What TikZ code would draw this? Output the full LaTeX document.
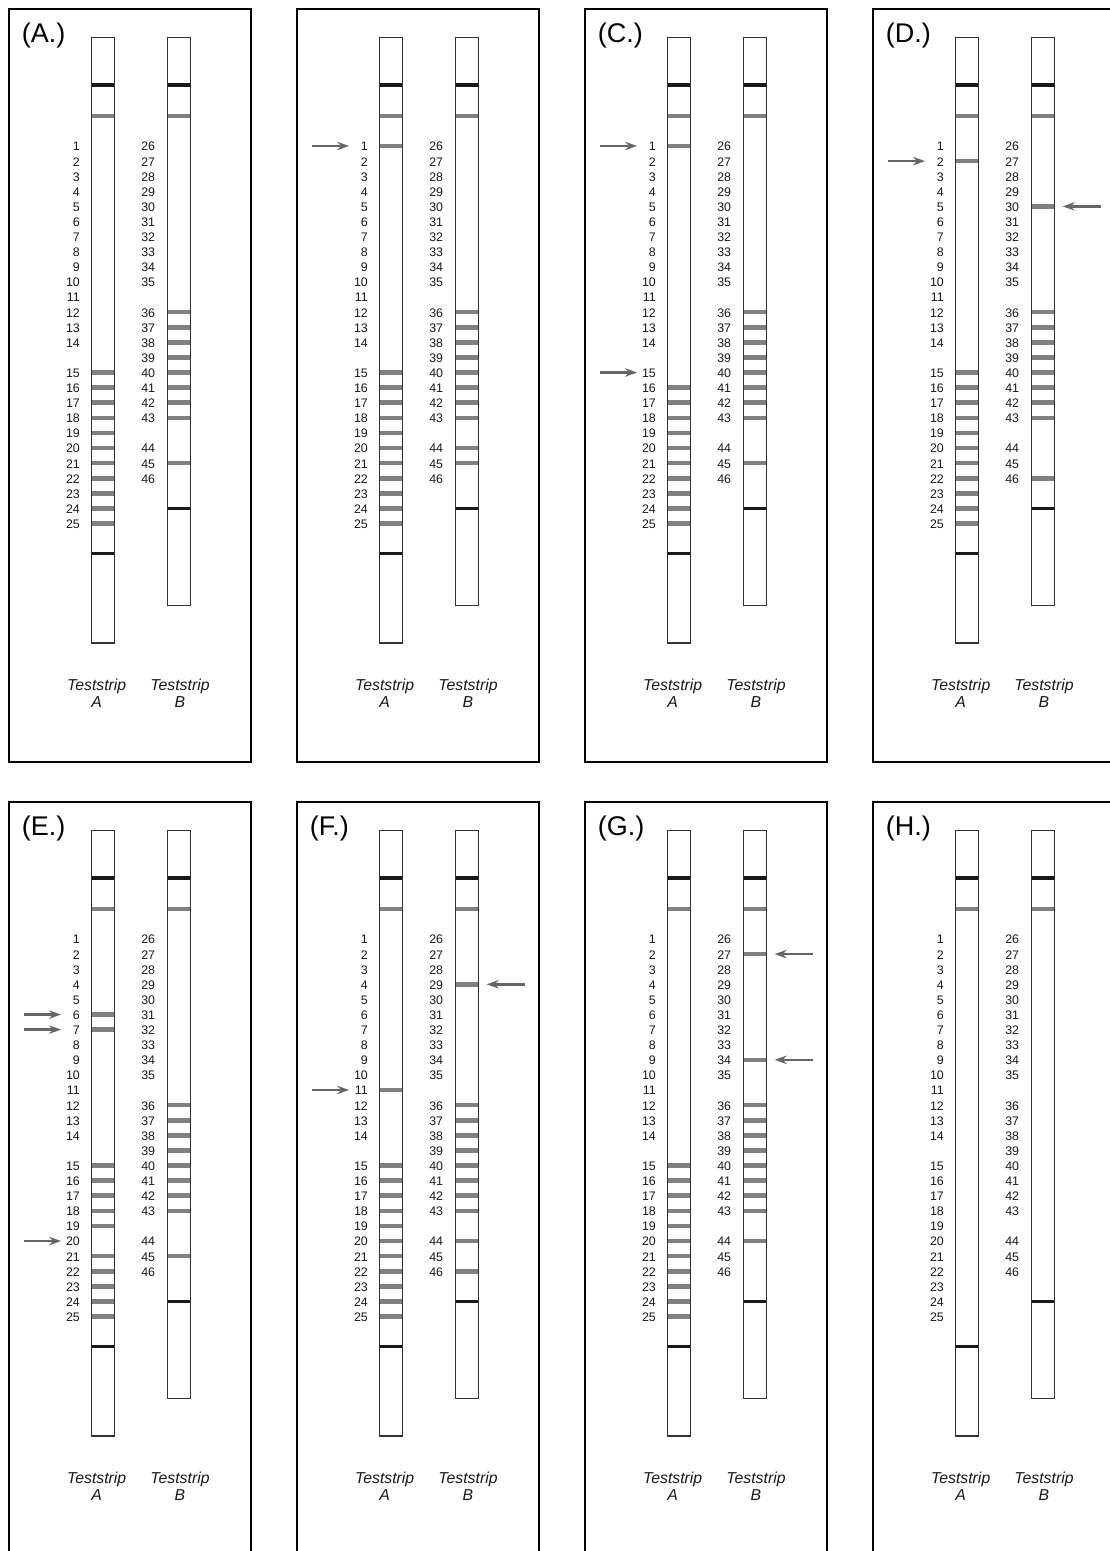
\documentclass[tikz,border=0pt]{standalone}
\usepackage{fontspec}
\setmainfont{Liberation Sans}
\usetikzlibrary{arrows.meta}
\tikzset{
  panelbox/.style={draw=black, line width=2.2pt},
  stripbox/.style={draw=black!80, line width=1.4pt, fill=white, outer sep=0pt, inner sep=0pt},
  bandline/.style={draw=black!50, line width=4.6pt},
  ctrlline/.style={draw=black!90, line width=3.2pt},
  numlabel/.style={font=\fontsize{12.4}{14}\selectfont, inner sep=0pt, anchor=east, text=black!90},
  stripname/.style={font=\fontsize{15.8}{18}\selectfont\itshape, inner sep=0pt, anchor=base, text=black!90},
  panellabel/.style={font=\fontsize{27}{30}\selectfont, inner sep=0pt, anchor=base west},
  markarrow/.style={draw=black!60, line width=2.4pt, -{Stealth[length=12pt,width=8.5pt,inset=4pt]}},
}
% #1 id, #2 xoff, #3 yoff, #4 label, #5 bands A, #6 bands B, #7 left arrows, #8 right arrows
\newcommand\drawpanel[8]{%
\begin{scope}[shift={(#2,#3)}]
  \draw[panelbox] (0,0) rectangle (242,753);
  \if\relax\detokenize{#4}\relax\else
    \node[panellabel] (#1-lab) at (12.6,33.5) {#4};
  \fi
  \node[stripbox, minimum width=23pt, minimum height=605.3pt, anchor=north west] (#1-sa) at (82.7,28.7) {};
  \node[stripbox, minimum width=23pt, minimum height=567.6pt, anchor=north west] (#1-sb) at (158.3,28.7) {};
  \draw[ctrlline] (83.4,76) -- (105,76);
  \draw[ctrlline] (159,76) -- (180.6,76);
  \draw[bandline] (83.4,107) -- (105,107);
  \draw[bandline] (159,107) -- (180.6,107);
  \draw[ctrlline] (83.4,544.3) -- (105,544.3);
  \draw[ctrlline] (159,499.3) -- (180.6,499.3);
  \foreach \n in {1,...,25}{
    \pgfmathtruncatemacro\k{(\n<15) ? (\n-1) : (\n)}
    \node[numlabel] (#1-n\n) at (71,{137.7+\k*15.1}) {\n};
  }
  \foreach \n in {26,...,46}{
    \pgfmathtruncatemacro\k{(\n<36) ? (\n-26) : ((\n<44) ? (\n-25) : (\n-24))}
    \node[numlabel] (#1-n\n) at (146.3,{137.7+\k*15.1}) {\n};
  }
  \foreach \n in {#5}{
    \ifnum\n>0
      \pgfmathsetmacro\yy{137+((\n<15) ? (\n-1) : (\n))*15.1}
      \draw[bandline] (83.4,\yy) -- (105,\yy);
    \fi
  }
  \foreach \n in {#6}{
    \ifnum\n>0
      \pgfmathsetmacro\yy{137+((\n<36) ? (\n-26) : ((\n<44) ? (\n-25) : (\n-24)))*15.1}
      \draw[bandline] (159,\yy) -- (180.6,\yy);
    \fi
  }
  \foreach \n in {#7}{
    \ifnum\n>0
      \pgfmathsetmacro\yy{137+((\n<15) ? (\n-1) : (\n))*15.1}
      \coordinate (#1-lt\n) at (14.7,\yy);
      \coordinate (#1-lh\n) at (52,\yy);
      \draw[markarrow] (#1-lt\n) -- (#1-lh\n);
    \fi
  }
  \foreach \n in {#8}{
    \ifnum\n>0
      \pgfmathsetmacro\yy{137+((\n<36) ? (\n-26) : ((\n<44) ? (\n-25) : (\n-24)))*15.1}
      \coordinate (#1-rt\n) at (227.7,\yy);
      \coordinate (#1-rh\n) at (189.7,\yy);
      \draw[markarrow] (#1-rt\n) -- (#1-rh\n);
    \fi
  }
  \node[stripname] (#1-ta) at (87.7,681) {Teststrip};
  \node[stripname] (#1-tax) at (87.7,698.7) {A};
  \node[stripname] (#1-tb) at (171,681) {Teststrip};
  \node[stripname] (#1-tbx) at (171,698.7) {B};
\end{scope}}
\begin{document}
\begin{tikzpicture}[x=1pt,y=-1pt]
  \useasboundingbox (0,0) rectangle (1110,1551);
  \fill[white] (0,0) rectangle (1110,1551);
  \clip (0,0) rectangle (1110,1551);
  \drawpanel{pa}{9}{9}{(A.)}{15,16,17,18,19,20,21,22,23,24,25}{36,37,38,39,40,41,42,43,45}{0}{0}
  \drawpanel{pb}{297}{9}{}{1,15,16,17,18,19,20,21,22,23,24,25}{36,37,38,39,40,41,42,43,44,45}{1}{0}
  \drawpanel{pc}{585}{9}{(C.)}{1,16,17,18,19,20,21,22,23,24,25}{36,37,38,39,40,41,42,43,45}{1,15}{0}
  \drawpanel{pd}{873}{9}{(D.)}{2,15,16,17,18,19,20,21,22,23,24,25}{30,36,37,38,39,40,41,42,43,46}{2}{30}
  \drawpanel{pe}{9}{802}{(E.)}{6,7,15,16,17,18,19,21,22,23,24,25}{36,37,38,39,40,41,42,43,45}{6,7,20}{0}
  \drawpanel{pf}{297}{802}{(F.)}{11,15,16,17,18,19,20,21,22,23,24,25}{29,36,37,38,39,40,41,42,43,44,46}{11}{29}
  \drawpanel{pg}{585}{802}{(G.)}{15,16,17,18,19,20,21,22,23,24,25}{27,34,36,37,38,39,40,41,42,43,44}{0}{27,34}
  \drawpanel{ph}{873}{802}{(H.)}{0}{0}{0}{0}
\end{tikzpicture}
\end{document}
